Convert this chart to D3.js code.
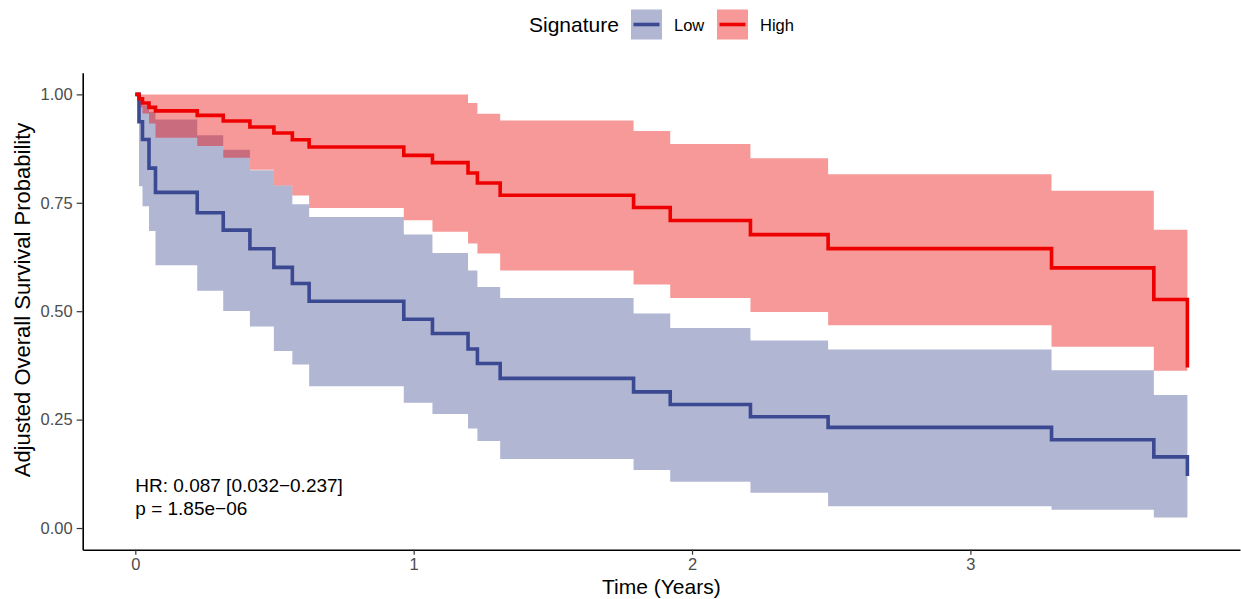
<!DOCTYPE html>
<html>
<head>
<meta charset="utf-8">
<script src="https://cdn.jsdelivr.net/npm/d3@7"></script>
<style>
  html, body { margin: 0; padding: 0; background: #fff; }
  svg { display: block; font-family: "Liberation Sans", Arial, sans-serif; }
</style>
</head>
<body>
<svg id="chart" width="1241" height="599"></svg>
<script>
// ---- data ----
const groups = ["Low", "High"];
const legendTitle = "Signature";
const times = [0, 0.0133, 0.0258, 0.0492, 0.0725, 0.2225, 0.3159, 0.4117, 0.4978, 0.5642, 0.6245,
  0.9645, 1.0675, 1.1953, 1.229, 1.3108, 1.79, 1.9217, 2.2099, 2.4889, 3.2915, 3.659, 3.7796];

const lowSurv = [1, 0.937, 0.896, 0.83, 0.774, 0.727, 0.687, 0.644, 0.601, 0.564, 0.523,
  0.4816, 0.4486, 0.413, 0.3795, 0.345, 0.314, 0.285, 0.2565, 0.232, 0.2035, 0.164, 0.12];
const lowUpper = [1, 0.99, 0.975, 0.96, 0.942, 0.9055, 0.8725, 0.825, 0.79, 0.7465, 0.717,
  0.6767, 0.634, 0.594, 0.556, 0.5306, 0.4946, 0.4615, 0.4324, 0.4117, 0.364, 0.3065, 0.3065];
const lowLower = [1, 0.788, 0.742, 0.685, 0.606, 0.547, 0.5007, 0.4647, 0.408, 0.377, 0.327,
  0.2887, 0.2627, 0.2297, 0.2005, 0.159, 0.1336, 0.1067, 0.0813, 0.05, 0.042, 0.024, 0.024];

const highSurv = [1, 0.99, 0.98, 0.97, 0.962, 0.9516, 0.9385, 0.9247, 0.911, 0.8955, 0.8786,
  0.8594, 0.8426, 0.8187, 0.7957, 0.7673, 0.739, 0.709, 0.6767, 0.6444, 0.5998, 0.527, 0.37];
const highUpper = [1, 1, 1, 1, 1, 1, 1, 1, 1, 1, 1,
  1, 1, 0.98, 0.9555, 0.94, 0.9155, 0.8856, 0.8525, 0.8157, 0.778, 0.688, 0.688];
const highLower = [1, 0.97, 0.956, 0.933, 0.90, 0.8812, 0.854, 0.826, 0.79, 0.767, 0.738,
  0.7097, 0.683, 0.656, 0.633, 0.594, 0.5615, 0.5306, 0.498, 0.4677, 0.4178, 0.3625, 0.3625];

const xTicks = [0, 1, 2, 3];
const yTicks = [0, 0.25, 0.5, 0.75, 1];
const annotation = ["HR: 0.087 [0.032\u22120.237]", "p = 1.85e\u221206"];
const colors = { Low: "#3B4992", High: "#EE0000" };

// ---- layout ----
const svg = d3.select("#chart");
const tmax = d3.max(times);
const x = d3.scaleLinear().domain([-0.05 * tmax, 1.05 * tmax]).range([82.7, 1240]);
const y = d3.scaleLinear().domain([-0.05, 1.05]).range([549.7, 72.7]);

function rows(s, lo, hi) {
  return times.map((t, i) => ({ t, s: s[i], lo: lo[i], hi: hi[i] }));
}
const series = [
  { name: "Low", data: rows(lowSurv, lowLower, lowUpper) },
  { name: "High", data: rows(highSurv, highLower, highUpper) }
];

const area = d3.area().curve(d3.curveStepAfter)
  .x(d => x(d.t)).y0(d => y(d.lo)).y1(d => y(d.hi));
const line = d3.line().curve(d3.curveStepAfter)
  .x(d => x(d.t)).y(d => y(d.s));

const plot = svg.append("g");
series.forEach(sr => {
  plot.append("path").attr("d", area(sr.data))
    .attr("fill", colors[sr.name]).attr("fill-opacity", 0.4).attr("stroke", "none");
});
series.forEach(sr => {
  plot.append("path").attr("d", line(sr.data))
    .attr("fill", "none").attr("stroke", colors[sr.name])
    .attr("stroke-width", 3.6).attr("stroke-linejoin", "miter");
});

// ---- axes ----
const xAxis = svg.append("g").attr("transform", `translate(0,${y.range()[0]})`)
  .call(d3.axisBottom(x).tickValues(xTicks).tickFormat(d3.format("d")).tickSizeInner(5).tickSizeOuter(0).tickPadding(4));
const yAxis = svg.append("g").attr("transform", `translate(${x.range()[0]},0)`)
  .call(d3.axisLeft(y).tickValues(yTicks).tickFormat(d3.format(".2f")).tickSizeInner(6).tickSizeOuter(0).tickPadding(4));
[xAxis, yAxis].forEach(g => {
  g.select(".domain").attr("stroke", "#000").attr("stroke-width", 1.6);
  g.selectAll(".tick line").attr("stroke", "#333").attr("stroke-width", 1.2);
  g.selectAll(".tick text").attr("fill", "#4D4D4D").style("font-size", "16.5px")
    .style("font-family", "'Liberation Sans', Arial, sans-serif");
});

svg.append("text").attr("x", (x.range()[0] + x.range()[1]) / 2).attr("y", 594)
  .attr("text-anchor", "middle").style("font-size", "21px").attr("fill", "#000")
  .text("Time (Years)");
svg.append("text").attr("transform", `translate(29.5,300) rotate(-90)`)
  .attr("text-anchor", "middle").style("font-size", "22px").attr("fill", "#000")
  .text("Adjusted Overall Survival Probability");

// ---- annotation ----
annotation.forEach((s, i) => {
  svg.append("text").attr("x", x(0)).attr("y", 492 + i * 22.5)
    .style("font-size", "19px").attr("fill", "#000").text(s);
});

// ---- legend ----
const lg = svg.append("g");
lg.append("text").attr("x", 529).attr("y", 32).style("font-size", "21px").attr("fill", "#000").text(legendTitle);
const keyX = [631, 717];
groups.forEach((g, i) => {
  const kx = keyX[i];
  lg.append("rect").attr("x", kx).attr("y", 9.5).attr("width", 31).attr("height", 30)
    .attr("fill", colors[g]).attr("fill-opacity", 0.4);
  lg.append("line").attr("x1", kx + 2.5).attr("x2", kx + 28.5).attr("y1", 24.5).attr("y2", 24.5)
    .attr("stroke", colors[g]).attr("stroke-width", 3.6);
  lg.append("text").attr("x", kx + 43).attr("y", 30.5).style("font-size", "16.5px").attr("fill", "#000").text(g);
});
</script>
</body>
</html>
